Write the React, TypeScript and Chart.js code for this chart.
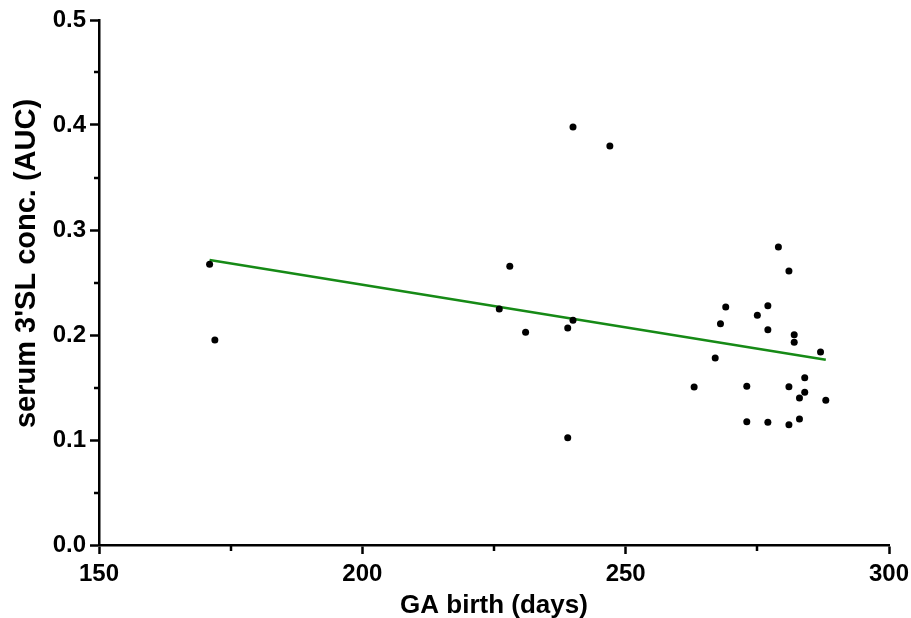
import React, { useEffect, useRef } from 'react';
import { Chart, registerables } from 'chart.js';

Chart.register(...registerables);

// ---- data ----
const gaDays = [
  171, 172, 226, 228, 231, 239, 240, 239, 240, 247,
  279, 281, 269, 277, 275, 268, 277, 282, 282, 287,
  267, 263, 273, 281, 284, 284, 283, 288, 273, 277, 281, 283,
];
const serum3SL = [
  0.2673, 0.1952, 0.2248, 0.2654, 0.2026, 0.2067, 0.214, 0.1022, 0.398, 0.38,
  0.2838, 0.261, 0.2267, 0.2279, 0.2188, 0.2108, 0.205, 0.2003, 0.193, 0.1838,
  0.1781, 0.1505, 0.1511, 0.1508, 0.1593, 0.1454, 0.14, 0.1378, 0.1174, 0.1169, 0.1146, 0.12,
];
const fitDays = [171, 288];
const fitConc = [0.2714, 0.1765];

const xMajorTicks = [150, 200, 250, 300];
const xMinorTicks = [175, 225, 275];
const yMajorTicks = [0, 0.1, 0.2, 0.3, 0.4, 0.5];
const yMinorTicks = [0.05, 0.15, 0.25, 0.35, 0.45];

const xTitle = 'GA birth (days)';
const yTitle = "serum 3'SL conc. (AUC)";

const FONT = '"Liberation Sans", Arial, Helvetica, sans-serif';

const minorTickPlugin = {
  id: 'minorTicks',
  afterDraw(chart: any) {
    const ctx = chart.ctx;
    const xs = chart.scales.x;
    const ys = chart.scales.y;
    const area = chart.chartArea;
    ctx.save();
    ctx.strokeStyle = '#000';
    ctx.lineWidth = 2.5;
    ctx.lineCap = 'butt';
    xMinorTicks.forEach((v) => {
      const px = Math.round(xs.getPixelForValue(v));
      ctx.beginPath();
      ctx.moveTo(px, area.bottom);
      ctx.lineTo(px, area.bottom + 6);
      ctx.stroke();
    });
    yMinorTicks.forEach((v) => {
      const py = Math.round(ys.getPixelForValue(v));
      ctx.beginPath();
      ctx.moveTo(area.left, py);
      ctx.lineTo(area.left - 5, py);
      ctx.stroke();
    });
    ctx.restore();
  },
};

// y-axis title drawn slightly above the plot centre, as in the reference
const yTitlePlugin = {
  id: 'yTitle',
  afterDraw(chart: any) {
    const ctx = chart.ctx;
    const area = chart.chartArea;
    const cy = (area.top + area.bottom) / 2 - 19;
    ctx.save();
    ctx.translate(27, cy);
    ctx.rotate(-Math.PI / 2);
    ctx.fillStyle = '#000';
    ctx.font = `bold 29px ${FONT}`;
    ctx.textAlign = 'center';
    ctx.textBaseline = 'middle';
    ctx.fillText(yTitle, 0, 0);
    ctx.restore();
  },
};

export default function App() {
  const ref = useRef<HTMLCanvasElement | null>(null);

  useEffect(() => {
    if (!ref.current) return;
    const points = gaDays.map((d, i) => ({ x: d, y: serum3SL[i] }));
    const fit = fitDays.map((d, i) => ({ x: d, y: fitConc[i] }));
    const chart = new Chart(ref.current, {
      type: 'scatter',
      data: {
        datasets: [
          {
            type: 'line',
            data: fit,
            borderColor: '#168a16',
            borderWidth: 2.5,
            pointRadius: 0,
            fill: false,
            order: 2,
          },
          {
            type: 'scatter',
            data: points,
            backgroundColor: '#000',
            borderWidth: 0,
            pointRadius: 3.5,
            order: 1,
          },
        ],
      },
      options: {
        animation: false,
        responsive: true,
        maintainAspectRatio: false,
        layout: { padding: { top: 20, right: 22, left: 0, bottom: 0 } },
        plugins: {
          legend: { display: false },
          tooltip: { enabled: false },
        },
        scales: {
          x: {
            type: 'linear',
            min: 150,
            max: 300,
            afterBuildTicks: (scale: any) => {
              scale.ticks = xMajorTicks.map((v) => ({ value: v }));
            },
            afterFit: (scale: any) => {
              scale.height = 73;
              scale.paddingLeft = 0;
              scale.paddingRight = 0;
            },
            ticks: {
              color: '#000',
              font: { family: FONT, size: 24, weight: 'bold' },
              padding: 6,
              maxRotation: 0,
              callback: (v: any) => String(v),
            },
            grid: {
              display: true,
              drawOnChartArea: false,
              drawTicks: true,
              tickLength: 9,
              tickWidth: 2.5,
              tickColor: '#000',
            },
            border: { display: true, color: '#000', width: 2.5 },
            title: {
              display: true,
              text: xTitle,
              color: '#000',
              font: { family: FONT, size: 26, weight: 'bold', lineHeight: 0.92 },
              padding: { top: 0, bottom: 0 },
            },
          },
          y: {
            type: 'linear',
            min: 0,
            max: 0.5,
            afterBuildTicks: (scale: any) => {
              scale.ticks = yMajorTicks.map((v) => ({ value: v }));
            },
            afterFit: (scale: any) => {
              scale.width = 99;
              scale.paddingTop = 0;
              scale.paddingBottom = 0;
            },
            ticks: {
              color: '#000',
              font: { family: FONT, size: 24, weight: 'bold' },
              padding: 4,
              callback: (v: any) => Number(v).toFixed(1),
            },
            grid: {
              display: true,
              drawOnChartArea: false,
              drawTicks: true,
              tickLength: 9,
              tickWidth: 2.5,
              tickColor: '#000',
            },
            border: { display: true, color: '#000', width: 2.5 },
            title: { display: false, text: yTitle },
          },
        },
      },
      plugins: [minorTickPlugin, yTitlePlugin],
    });
    return () => chart.destroy();
  }, []);

  return (
    <div style={{ position: 'absolute', left: 0, top: 0, width: 911, height: 618, background: '#fff' }}>
      <canvas ref={ref} />
    </div>
  );
}
